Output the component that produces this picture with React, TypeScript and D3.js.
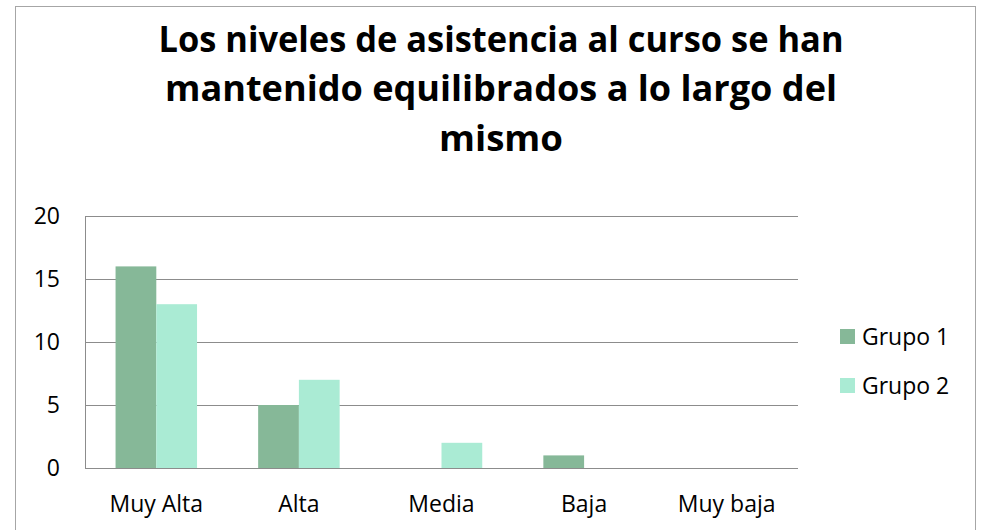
import React from "react";
import * as d3 from "d3";

const categories = ["Muy Alta", "Alta", "Media", "Baja", "Muy baja"];
const seriesNames = ["Grupo 1", "Grupo 2"];
const grupo1 = [16, 5, 0, 1, 0];
const grupo2 = [13, 7, 2, 0, 0];
const yTicks = [0, 5, 10, 15, 20];
const titleLines = [
  "Los niveles de asistencia al curso se han",
  "mantenido equilibrados a lo largo del",
  "mismo",
];

const colors = ["#86B898", "#AAEBD4"];
const FONT = "'Open Sans', Lato, sans-serif";

export default function App() {
  const W = 982;
  const H = 530;
  const plot = { left: 85, right: 798, top: 216, bottom: 468 };

  const x0 = d3
    .scaleBand<string>()
    .domain(categories)
    .range([plot.left, plot.right])
    .paddingInner(0)
    .paddingOuter(0);

  const x1 = d3
    .scaleBand<string>()
    .domain(seriesNames)
    .range([0, x0.bandwidth()])
    .paddingInner(0)
    .paddingOuter(0.75);

  const y = d3.scaleLinear().domain([0, 20]).range([plot.bottom, plot.top]);

  const values = [grupo1, grupo2];

  const titleWidths = [685, 672, 124];
  const titleBase = [52, 101, 151];

  return (
    <svg
      width={W}
      height={H}
      style={{ position: "absolute", left: 0, top: 0, background: "#fff" }}
      fontFamily={FONT}
    >
      <rect x={15.5} y={6.5} width={960} height={540} fill="#fff" stroke="#a6a6a6" />

      {titleLines.map((t, i) => (
        <text
          key={i}
          x={501}
          y={titleBase[i]}
          textAnchor="middle"
          fontSize={35}
          fontWeight="bold"
          fill="#000"
          textLength={titleWidths[i]}
          lengthAdjust="spacingAndGlyphs"
        >
          {t}
        </text>
      ))}

      {/* grid */}
      {yTicks.map((t) => (
        <line
          key={t}
          x1={plot.left}
          x2={plot.right}
          y1={Math.round(y(t)) + 0.5}
          y2={Math.round(y(t)) + 0.5}
          stroke="#8c8c8c"
          strokeWidth={1}
        />
      ))}
      <line
        x1={plot.left + 0.5}
        x2={plot.left + 0.5}
        y1={plot.top}
        y2={plot.bottom}
        stroke="#8c8c8c"
      />

      {yTicks.map((t) => (
        <text
          key={t}
          x={60}
          y={y(t) + 8}
          textAnchor="end"
          fontSize={23}
          fill="#000"
        >
          {t}
        </text>
      ))}

      {/* bars */}
      {values.map((vals, si) =>
        vals.map((v, ci) =>
          v > 0 ? (
            <rect
              key={`${si}-${ci}`}
              x={(x0(categories[ci]) ?? 0) + (x1(seriesNames[si]) ?? 0)}
              y={y(v)}
              width={x1.bandwidth()}
              height={y(0) - y(v)}
              fill={colors[si]}
            />
          ) : null
        )
      )}

      {categories.map((c) => (
        <text
          key={c}
          x={(x0(c) ?? 0) + x0.bandwidth() / 2}
          y={512}
          textAnchor="middle"
          fontSize={23}
          fill="#000"
        >
          {c}
        </text>
      ))}

      {/* legend */}
      {seriesNames.map((s, i) => (
        <g key={s} transform={`translate(840,${329 + i * 49})`}>
          <rect width={15} height={15} fill={colors[i]} />
          <text x={22} y={16} fontSize={23} fill="#000">
            {s}
          </text>
        </g>
      ))}
    </svg>
  );
}
